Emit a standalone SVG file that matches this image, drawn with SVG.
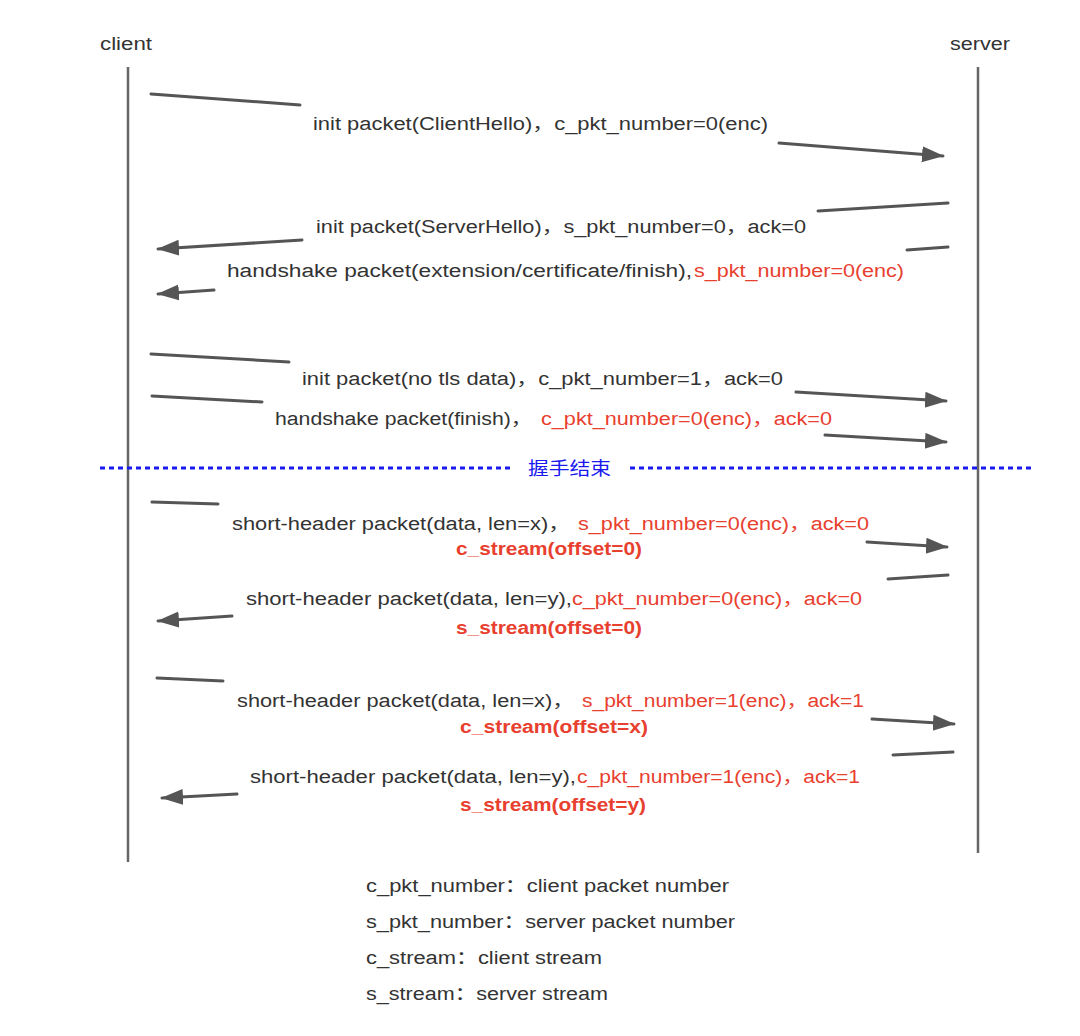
<svg xmlns="http://www.w3.org/2000/svg" width="1080" height="1036" viewBox="0 0 1080 1036">
<style>
text{font-family:"Liberation Sans","Noto Sans CJK SC",sans-serif;font-size:18px;fill:#333}
.r{fill:#e8402f}
.b{fill:#e8402f;font-weight:bold}
.bl{fill:#1a1aee}
.life{stroke:#666;stroke-width:2.5;fill:none}
.msg{stroke:#555;stroke-width:3;fill:none;stroke-linecap:round}
.arr{marker-end:url(#ah)}
.dash{stroke:#1a1aee;stroke-width:3;stroke-dasharray:5 4;fill:none}
</style>
<defs>
<marker id="ah" markerUnits="userSpaceOnUse" markerWidth="24" markerHeight="18" refX="21" refY="8" orient="auto">
<path d="M0,0 L22,8 L0,16 z" fill="#555"/>
</marker>
</defs>
<rect width="1080" height="1036" fill="#fff"/>
<g id="client">
<text x="100" y="50" textLength="52" lengthAdjust="spacingAndGlyphs">client</text>
<line class="life" x1="128" y1="67" x2="128" y2="862"/>
</g>
<g id="server">
<text x="950" y="50" textLength="60" lengthAdjust="spacingAndGlyphs">server</text>
<line class="life" x1="978" y1="67" x2="978" y2="853"/>
</g>
<g id="connectors">
<line class="msg" x1="151" y1="94" x2="300" y2="105"/>
<line class="msg arr" x1="779" y1="143" x2="943" y2="156"/>
<line class="msg" x1="818" y1="211" x2="948" y2="203"/>
<line class="msg arr" x1="302" y1="240" x2="158" y2="249"/>
<line class="msg" x1="907" y1="250" x2="948" y2="247"/>
<line class="msg arr" x1="214" y1="290" x2="158" y2="294"/>
<line class="msg" x1="151" y1="354" x2="289" y2="362"/>
<line class="msg arr" x1="796" y1="392" x2="946" y2="401"/>
<line class="msg" x1="152" y1="396" x2="262" y2="402"/>
<line class="msg arr" x1="825" y1="435" x2="946" y2="442"/>
<line class="msg" x1="152" y1="502" x2="218" y2="504"/>
<line class="msg arr" x1="867" y1="542" x2="947" y2="547"/>
<line class="msg" x1="888" y1="579" x2="948" y2="575"/>
<line class="msg arr" x1="232" y1="616" x2="158" y2="621"/>
<line class="msg" x1="157" y1="678" x2="223" y2="681"/>
<line class="msg arr" x1="872" y1="719" x2="954" y2="724"/>
<line class="msg" x1="893" y1="755" x2="953" y2="752"/>
<line class="msg arr" x1="237" y1="794" x2="162" y2="798"/>
</g>
<g id="labels">
<text x="313" y="130" textLength="455" lengthAdjust="spacingAndGlyphs">init packet(ClientHello)，c_pkt_number=0(enc)</text>
<text x="316" y="233" textLength="490" lengthAdjust="spacingAndGlyphs">init packet(ServerHello)，s_pkt_number=0，ack=0</text>
<text x="227" y="277" textLength="465" lengthAdjust="spacingAndGlyphs">handshake packet(extension/certificate/finish),</text>
<text class="r" x="694" y="277" textLength="210" lengthAdjust="spacingAndGlyphs">s_pkt_number=0(enc)</text>
<text x="302" y="385" textLength="481" lengthAdjust="spacingAndGlyphs">init packet(no tls data)，c_pkt_number=1，ack=0</text>
<text x="275" y="425" textLength="257" lengthAdjust="spacingAndGlyphs">handshake packet(finish)，</text>
<text class="r" x="541" y="425" textLength="291" lengthAdjust="spacingAndGlyphs">c_pkt_number=0(enc)，ack=0</text>
<text x="232" y="530" textLength="338" lengthAdjust="spacingAndGlyphs">short-header packet(data, len=x)，</text>
<text class="r" x="578" y="530" textLength="291" lengthAdjust="spacingAndGlyphs">s_pkt_number=0(enc)，ack=0</text>
<text class="b" x="456" y="555" textLength="186" lengthAdjust="spacingAndGlyphs">c_stream(offset=0)</text>
<text x="246" y="605" textLength="326" lengthAdjust="spacingAndGlyphs">short-header packet(data, len=y),</text>
<text class="r" x="572" y="605" textLength="290" lengthAdjust="spacingAndGlyphs">c_pkt_number=0(enc)，ack=0</text>
<text class="b" x="456" y="634" textLength="186" lengthAdjust="spacingAndGlyphs">s_stream(offset=0)</text>
<text x="237" y="707" textLength="337" lengthAdjust="spacingAndGlyphs">short-header packet(data, len=x)，</text>
<text class="r" x="582" y="707" textLength="282" lengthAdjust="spacingAndGlyphs">s_pkt_number=1(enc)，ack=1</text>
<text class="b" x="460" y="733" textLength="188" lengthAdjust="spacingAndGlyphs">c_stream(offset=x)</text>
<text x="250" y="783" textLength="326" lengthAdjust="spacingAndGlyphs">short-header packet(data, len=y),</text>
<text class="r" x="577" y="783" textLength="283" lengthAdjust="spacingAndGlyphs">c_pkt_number=1(enc)，ack=1</text>
<text class="b" x="460" y="811" textLength="186" lengthAdjust="spacingAndGlyphs">s_stream(offset=y)</text>
</g>
<g id="divider">
<line class="dash" x1="100" y1="468" x2="513" y2="468"/>
<text class="bl" x="528" y="475" textLength="83" lengthAdjust="spacingAndGlyphs">握手结束</text>
<line class="dash" x1="630" y1="468" x2="1033" y2="468"/>
</g>
<g id="legend">
<text x="366" y="892" textLength="363" lengthAdjust="spacingAndGlyphs">c_pkt_number：client packet number</text>
<text x="366" y="928" textLength="369" lengthAdjust="spacingAndGlyphs">s_pkt_number：server packet number</text>
<text x="366" y="964" textLength="236" lengthAdjust="spacingAndGlyphs">c_stream：client stream</text>
<text x="366" y="1000" textLength="242" lengthAdjust="spacingAndGlyphs">s_stream：server stream</text>
</g>
</svg>
